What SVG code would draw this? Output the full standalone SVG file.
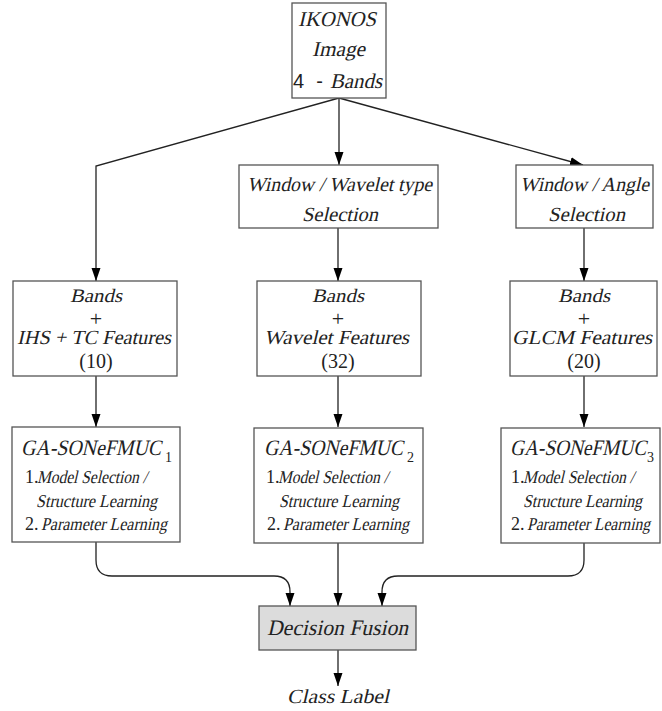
<svg xmlns="http://www.w3.org/2000/svg" width="662" height="711" viewBox="0 0 662 711">
<style>
.bx{fill:#fff;stroke:#555;stroke-width:1.3}
.df{fill:#dcdcdc;stroke:#555;stroke-width:1.3}
.ln{fill:none;stroke:#222;stroke-width:1.3}
text{font-family:'Liberation Serif','Times New Roman',Times,serif;font-style:normal;fill:#222}
.s{font-family:'Liberation Sans',Arial,sans-serif}
.k{transform:skewX(-13deg)}
</style>
<defs>
<marker id="ah" markerUnits="userSpaceOnUse" markerWidth="13" markerHeight="10" refX="13" refY="5" orient="auto">
<path d="M0,0.5 L13,5 L0,9.5 z" fill="#000"/>
</marker>
</defs>
<rect width="662" height="711" fill="#fff"/>
<g id="connectors" class="ln" marker-end="url(#ah)">
<path d="M339,98 L96,166 L96,281"/>
<path d="M339,98 L339,165"/>
<path d="M339,98 L583,165"/>
<path d="M338,228 L338,281"/>
<path d="M584,228 L584,281"/>
<path d="M96,376 L96,427"/>
<path d="M338,376 L338,427"/>
<path d="M584,376 L584,427"/>
<path d="M96,542 L96,560 Q96,576 112,576 L274,576 Q290,576 290,592 L290,606"/>
<path d="M338,542 L338,606"/>
<path d="M584,543 L584,560 Q584,576 568,576 L398,576 Q382,576 382,592 L382,606"/>
<path d="M338,650 L338,686"/>
</g>
<g id="ikonos">
<rect class="bx" x="292" y="3" width="94" height="95"/>
<g transform="translate(298,26)"><text class="k" font-size="21" textLength="78" lengthAdjust="spacingAndGlyphs">IKONOS</text></g>
<g transform="translate(312,56)"><text class="k" font-size="21" textLength="53" lengthAdjust="spacingAndGlyphs">Image</text></g>
<text class="s" x="293" y="88" font-size="20" textLength="30">4 -</text>
<g transform="translate(330,88)"><text class="k" font-size="21" textLength="52" lengthAdjust="spacingAndGlyphs">Bands</text></g>
</g>
<g id="window-wavelet">
<rect class="bx" x="239" y="165" width="199" height="63"/>
<g transform="translate(247,191)"><text class="k" font-size="20" textLength="185" lengthAdjust="spacingAndGlyphs">Window / Wavelet type</text></g>
<g transform="translate(302,221)"><text class="k" font-size="20" textLength="76" lengthAdjust="spacingAndGlyphs">Selection</text></g>
</g>
<g id="window-angle">
<rect class="bx" x="516" y="165" width="137" height="63"/>
<g transform="translate(520,191)"><text class="k" font-size="20" textLength="129" lengthAdjust="spacingAndGlyphs">Window / Angle</text></g>
<g transform="translate(548,221)"><text class="k" font-size="20" textLength="77" lengthAdjust="spacingAndGlyphs">Selection</text></g>
</g>
<g id="bands-ihs">
<rect class="bx" x="13" y="281" width="164" height="95"/>
<g transform="translate(70,302)"><text class="k" font-size="19" textLength="52" lengthAdjust="spacingAndGlyphs">Bands</text></g>
<text x="96" y="326" font-size="22" text-anchor="middle">+</text>
<g transform="translate(17,344)"><text class="k" font-size="20" textLength="154" lengthAdjust="spacingAndGlyphs">IHS + TC Features</text></g>
<text x="96" y="368" font-size="20" text-anchor="middle">(10)</text>
</g>
<g id="bands-wavelet">
<rect class="bx" x="257" y="281" width="164" height="95"/>
<g transform="translate(312,302)"><text class="k" font-size="19" textLength="52" lengthAdjust="spacingAndGlyphs">Bands</text></g>
<text x="338" y="326" font-size="22" text-anchor="middle">+</text>
<g transform="translate(264,344)"><text class="k" font-size="20" textLength="145" lengthAdjust="spacingAndGlyphs">Wavelet Features</text></g>
<text x="338" y="368" font-size="20" text-anchor="middle">(32)</text>
</g>
<g id="bands-glcm">
<rect class="bx" x="510" y="281" width="147" height="95"/>
<g transform="translate(558,302)"><text class="k" font-size="19" textLength="52" lengthAdjust="spacingAndGlyphs">Bands</text></g>
<text x="584" y="326" font-size="22" text-anchor="middle">+</text>
<g transform="translate(512,344)"><text class="k" font-size="20" textLength="140" lengthAdjust="spacingAndGlyphs">GLCM Features</text></g>
<text x="584" y="368" font-size="20" text-anchor="middle">(20)</text>
</g>
<g id="ga1">
<rect class="bx" x="12" y="427" width="168" height="115"/>
<g transform="translate(21,455)"><text class="k" font-size="22" textLength="140" lengthAdjust="spacingAndGlyphs">GA-SONeFMUC</text></g>
<text x="165" y="462" font-size="14">1</text>
<text x="25" y="483" font-size="18">1.</text>
<g transform="translate(37,483)"><text class="k" font-size="18" textLength="110" lengthAdjust="spacingAndGlyphs">Model Selection /</text></g>
<g transform="translate(36,507)"><text class="k" font-size="18" textLength="121" lengthAdjust="spacingAndGlyphs">Structure Learning</text></g>
<text x="25" y="530" font-size="18">2.</text>
<g transform="translate(41,530)"><text class="k" font-size="18" textLength="126" lengthAdjust="spacingAndGlyphs">Parameter Learning</text></g>
</g>
<g id="ga2">
<rect class="bx" x="254" y="428" width="169" height="115"/>
<g transform="translate(264,455)"><text class="k" font-size="22" textLength="139" lengthAdjust="spacingAndGlyphs">GA-SONeFMUC</text></g>
<text x="407" y="462" font-size="14">2</text>
<text x="266" y="483" font-size="18">1.</text>
<g transform="translate(278,483)"><text class="k" font-size="18" textLength="110" lengthAdjust="spacingAndGlyphs">Model Selection /</text></g>
<g transform="translate(279,507)"><text class="k" font-size="18" textLength="120" lengthAdjust="spacingAndGlyphs">Structure Learning</text></g>
<text x="267" y="530" font-size="18">2.</text>
<g transform="translate(283,530)"><text class="k" font-size="18" textLength="126" lengthAdjust="spacingAndGlyphs">Parameter Learning</text></g>
</g>
<g id="ga3">
<rect class="bx" x="501" y="428" width="159" height="115"/>
<g transform="translate(510,455)"><text class="k" font-size="22" textLength="136" lengthAdjust="spacingAndGlyphs">GA-SONeFMUC</text></g>
<text x="647" y="462" font-size="14">3</text>
<text x="511" y="483" font-size="18">1.</text>
<g transform="translate(523,483)"><text class="k" font-size="18" textLength="111" lengthAdjust="spacingAndGlyphs">Model Selection /</text></g>
<g transform="translate(523,507)"><text class="k" font-size="18" textLength="119" lengthAdjust="spacingAndGlyphs">Structure Learning</text></g>
<text x="511" y="530" font-size="18">2.</text>
<g transform="translate(527,530)"><text class="k" font-size="18" textLength="123" lengthAdjust="spacingAndGlyphs">Parameter Learning</text></g>
</g>
<g id="decision-fusion">
<rect class="df" x="259" y="606" width="157" height="44"/>
<g transform="translate(267,635)"><text class="k" font-size="22" textLength="141" lengthAdjust="spacingAndGlyphs">Decision Fusion</text></g>
</g>
<g id="class-label">
<g transform="translate(287,703)"><text class="k" font-size="20" textLength="102" lengthAdjust="spacingAndGlyphs">Class Label</text></g>
</g>
</svg>
